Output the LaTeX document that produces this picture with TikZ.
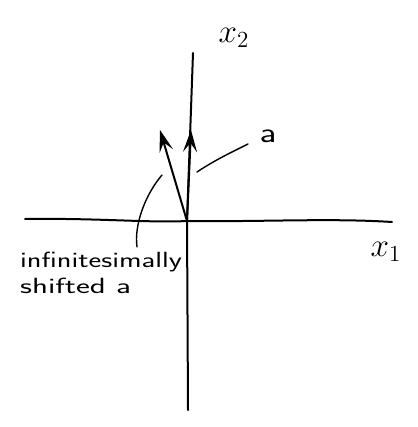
\documentclass[tikz,border=0pt]{standalone}
\usetikzlibrary{arrows.meta}
\begin{document}
\begin{tikzpicture}[x=1pt,y=-1pt,
  axis/.style={line width=2pt,line cap=round},
  vec/.style={line width=2pt,-{Stealth[length=22pt,width=14pt,inset=9pt]}},
  lead/.style={line width=1.4pt,line cap=round},
  lbl/.style={inner sep=0pt,font=\sffamily\fontsize{22}{26}\selectfont},
  axlbl/.style={inner sep=0pt,font=\fontsize{20}{24}\selectfont}]
\useasboundingbox (0,0) rectangle (417,427);
\coordinate (O) at (187,221);
\coordinate (ytop) at (193,53);
\coordinate (ybot) at (188,410);
\coordinate (xl) at (25,219);
\coordinate (xr) at (392,222);
\draw[axis] (ytop) -- (O) -- (ybot);
\draw[axis] (xl) .. controls (100,218) and (150,223) .. (O) .. controls (260,222) and (330,218) .. (xr);
\coordinate (atip) at (191,130);
\coordinate (stip) at (160,130);
\draw[vec] (O) -- (atip);
\draw[vec] (O) -- (stip);
\node[axlbl] (x2) at (234,38) {\scalebox{1.6}{$x_2$}};
\node[axlbl] (x1) at (386,252) {\scalebox{1.6}{$x_1$}};
\node[lbl] (alab) at (268,136) {\scalebox{1.7}[1.3]{a}};
\coordinate (a1) at (197,172);
\coordinate (a2) at (248,144);
\draw[lead] (a1) .. controls (215,160) and (232,152) .. (a2);
\node[lbl,anchor=west] (inf) at (20,262) {\scalebox{1.38}[1]{infinitesimally}};
\node[lbl,anchor=west] (sh) at (20,286) {\scalebox{1.5}[1]{shifted a}};
\coordinate (s1) at (137,247);
\coordinate (s2) at (162,175);
\draw[lead] (s1) .. controls (134,225) and (145,195) .. (s2);
\end{tikzpicture}
\end{document}
